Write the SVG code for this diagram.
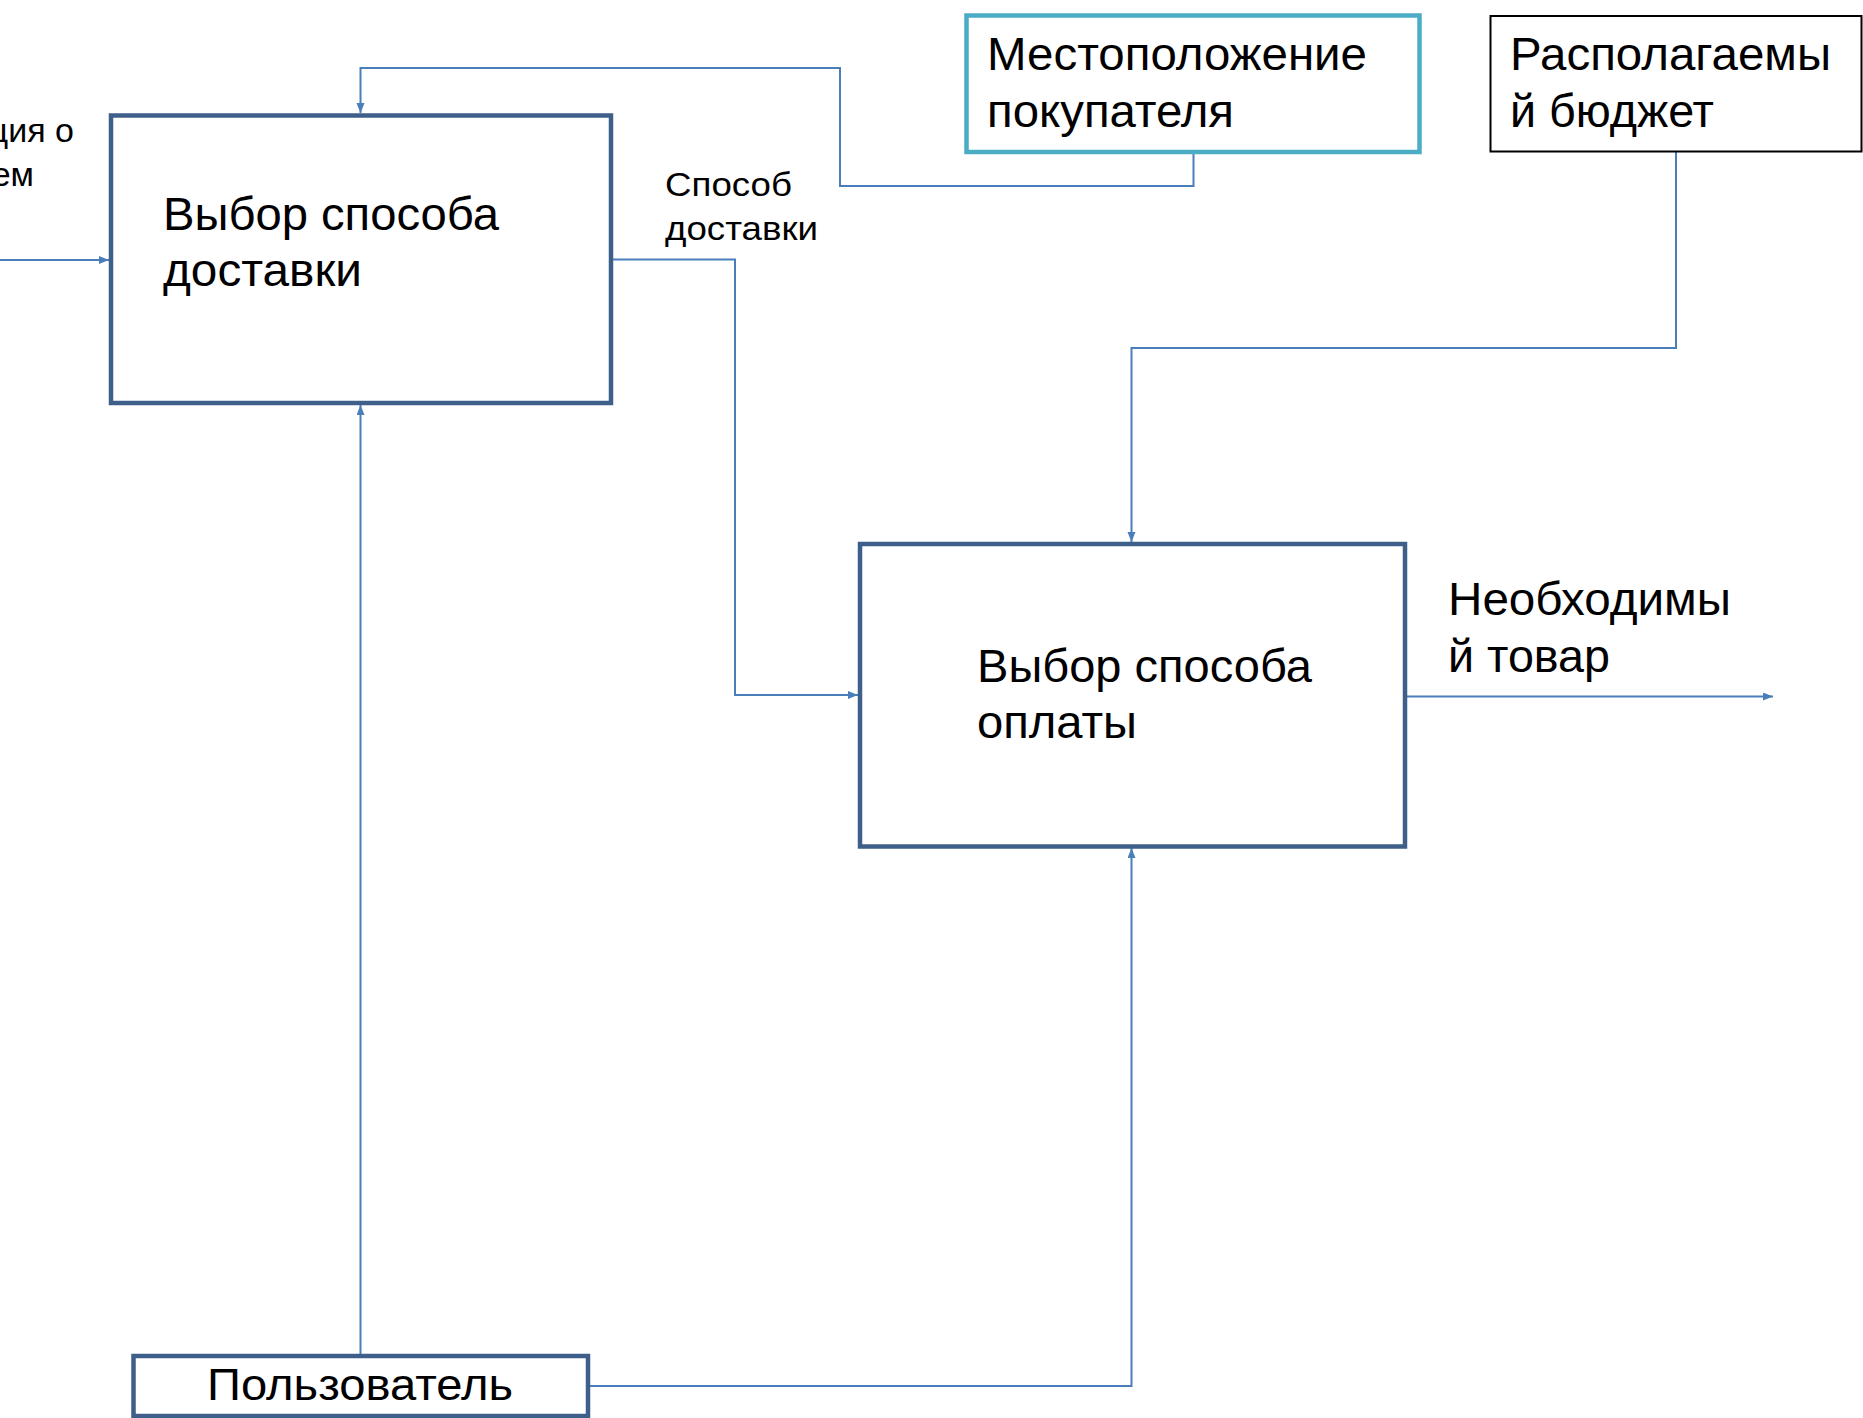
<svg xmlns="http://www.w3.org/2000/svg" width="1863" height="1418" viewBox="0 0 1863 1418">
<style>
.t{font-family:"Liberation Sans",Arial,sans-serif;fill:#000}
.big{font-size:46px}
.sm{font-size:33px}
.box{fill:#fff;stroke:#3E5F8A;stroke-width:4.5}
.con{fill:none;stroke:#4A7EBB;stroke-width:2}
</style>
<defs>
<marker id="arr" markerUnits="userSpaceOnUse" markerWidth="11" markerHeight="9" refX="10" refY="4" orient="auto">
<path d="M0,0 L10,4 L0,8 z" fill="#4A7EBB"/>
</marker>
</defs>
<rect width="1863" height="1418" fill="#fff"/>
<g id="connectors">
<path class="con" d="M0,260 H109" marker-end="url(#arr)"/>
<path class="con" d="M1193.5,152 V186 H840 V68 H360.5 V113" marker-end="url(#arr)"/>
<path class="con" d="M613,259.5 H735 V695 H858" marker-end="url(#arr)"/>
<path class="con" d="M1676,152 V348 H1131.5 V542" marker-end="url(#arr)"/>
<path class="con" d="M1405,696.5 H1773" marker-end="url(#arr)"/>
<path class="con" d="M360.5,1354 V405" marker-end="url(#arr)"/>
<path class="con" d="M590,1386 H1131.5 V848" marker-end="url(#arr)"/>
</g>
<g id="label-input">
<text class="t" font-size="34" x="74" y="142" text-anchor="end">ция о</text>
<text class="t" font-size="34" x="34" y="186" text-anchor="end">ем</text>
</g>
<g id="label-sposob">
<text class="t sm" x="665" y="196" textLength="127" lengthAdjust="spacingAndGlyphs">Способ</text>
<text class="t sm" x="665" y="240" textLength="153" lengthAdjust="spacingAndGlyphs">доставки</text>
</g>
<g id="node-dostavka">
<rect class="box" x="111" y="115.5" width="500" height="287.5"/>
<text class="t big" x="163" y="230" textLength="336" lengthAdjust="spacingAndGlyphs">Выбор способа</text>
<text class="t big" x="163" y="286" textLength="199" lengthAdjust="spacingAndGlyphs">доставки</text>
</g>
<g id="node-mesto">
<rect x="966.5" y="15.5" width="453" height="136.5" fill="#fff" stroke="#4BACC6" stroke-width="4.5"/>
<text class="t big" x="987" y="70" textLength="380" lengthAdjust="spacingAndGlyphs">Местоположение</text>
<text class="t big" x="987" y="127" textLength="247" lengthAdjust="spacingAndGlyphs">покупателя</text>
</g>
<g id="node-budget">
<rect x="1490.5" y="16" width="371" height="135.5" fill="#fff" stroke="#000" stroke-width="2"/>
<text class="t big" x="1510" y="70" textLength="321" lengthAdjust="spacingAndGlyphs">Располагаемы</text>
<text class="t big" x="1510" y="127" textLength="204" lengthAdjust="spacingAndGlyphs">й бюджет</text>
</g>
<g id="node-oplata">
<rect class="box" x="860" y="544" width="545" height="302.5"/>
<text class="t big" x="977" y="682" textLength="335" lengthAdjust="spacingAndGlyphs">Выбор способа</text>
<text class="t big" x="977" y="738" textLength="160" lengthAdjust="spacingAndGlyphs">оплаты</text>
</g>
<g id="label-tovar">
<text class="t big" x="1448" y="615" textLength="283" lengthAdjust="spacingAndGlyphs">Необходимы</text>
<text class="t big" x="1448" y="672" textLength="162" lengthAdjust="spacingAndGlyphs">й товар</text>
</g>
<g id="node-user">
<rect class="box" x="133.5" y="1356" width="454.5" height="60"/>
<text class="t" x="207" y="1400" font-size="45" textLength="306" lengthAdjust="spacingAndGlyphs">Пользователь</text>
</g>
</svg>
